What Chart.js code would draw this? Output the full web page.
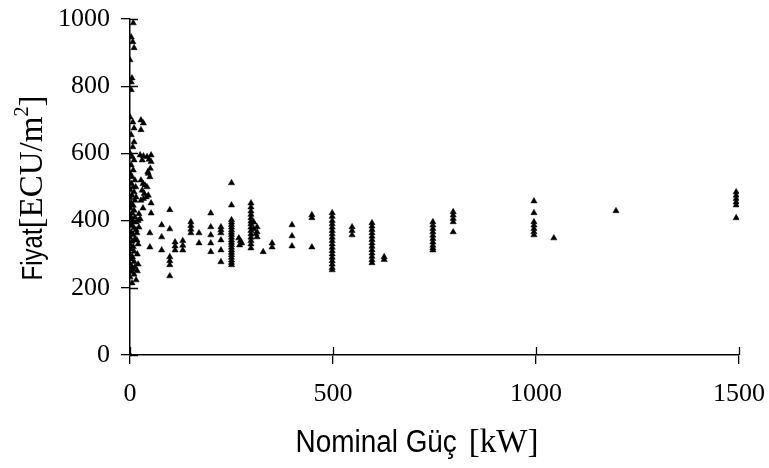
<!DOCTYPE html>
<html>
<head>
<meta charset="utf-8">
<script src="https://cdn.jsdelivr.net/npm/chart.js@4/dist/chart.umd.min.js"></script>
<style>
html,body{margin:0;padding:0;background:#fff;}
#wrap{width:769px;height:468px;position:relative;}
</style>
</head>
<body>
<div id="wrap"><canvas id="c" width="769" height="468"></canvas></div>
<script>
// Nominal power [kW] of each turbine
const powerKW = [
  0,
  8,3,7,10,0,5,3,3,0,7,10,3,10,7,0,5,10,3,8,0,5,12,3,8,0,10,5,0,12,3,8,0,10,5,0,12,3,8,0,5,10,15,3,8,0,12,5,0,8,3,10,0,6,3,10,0,5,12,8,3,10,0,15,5,17,17,15,15,14,
  22,20,22,25,20,18,20,18,
  27,27,33,25,33,42,52,30,47,52,44,49,27,32,37,42,30,35,40,45,27,33,32,52,52,49,49,45,50,
  78,78,78,
  98,98,98,98,98,98,
  111,111,111,
  130,130,130,
  150,150,150,150,
  170,170,
  199,199,199,199,199,
  224,224,224,224,224,224,
  250,250,250,250,250,250,250,250,250,250,250,250,250,250,250,250,250,250,250,250,250,
  268,272,275,270,
  298,298,298,298,298,298,298,298,298,298,298,298,298,298,305,305,310,
  313,313,313,
  328,
  350,350,
  399,399,399,
  448,448,448,
  498,498,498,498,498,498,498,498,498,498,498,498,498,498,498,498,498,498,
  547,547,547,
  596,596,596,596,596,596,596,596,596,596,596,596,596,
  626,626,
  746,746,746,746,746,746,746,746,746,746,
  796,796,796,796,796,
  995,995,995,995,995,995,995,
  1044,
  1197,
  1493,1493,1493,1493,1493,1493
];
// Price [ECU/m2] of each turbine (same order)
const priceEcu = [
  0,
  988,946,932,914,878,824,812,789,708,693,675,655,634,619,600,590,580,565,550,540,530,520,510,500,492,485,475,468,460,452,445,438,430,422,415,410,405,398,392,385,378,372,365,358,350,345,338,330,322,315,308,300,292,285,278,270,262,262,255,248,240,232,223,214,363,342,395,470,500,
  420,400,380,405,330,300,270,250,
  699,670,690,595,592,590,595,580,582,575,545,530,520,510,505,500,490,480,470,475,460,465,437,452,422,363,321,540,555,
  387,351,312,
  432,375,292,280,268,235,
  336,324,312,
  340,326,312,
  396,385,374,363,
  363,333,
  422,381,357,333,307,
  381,372,363,342,312,277,
  512,446,402,395,388,380,372,365,358,350,342,335,328,320,312,305,298,290,282,275,268,
  348,340,333,327,
  452,440,428,418,408,398,390,380,370,360,350,340,330,318,395,375,360,
  381,366,351,
  307,
  333,321,
  387,354,324,
  417,408,321,
  423,412,400,390,380,370,360,350,340,330,320,310,300,290,280,270,260,253,
  381,370,357,
  393,383,373,363,353,343,333,323,313,303,293,283,274,
  292,284,
  396,386,376,366,356,346,336,326,318,312,
  426,416,406,396,366,
  458,423,396,386,376,366,357,
  348,
  429,
  485,475,465,455,446,408
];
const xTicks = [0, 500, 1000, 1500];
const yTicks = [0, 200, 400, 600, 800, 1000];
const yTitleSans = 'Fiyat';
const yTitleSerif = '[ECU/m';
const yTitleSup = '2';
const yTitleEnd = ']';
const xTitleSans = 'Nominal Güç';
const xTitleSerif = '[kW]';

const points = powerKW.map((x, i) => ({x: x, y: priceEcu[i]}));

const TICK = 9;
const SERIF = '"Liberation Serif", "Times New Roman", serif';
const SANS = '"Liberation Sans", Arial, sans-serif';
const crossTicks = {
  id: 'crossTicks',
  afterDraw(chart) {
    const ctx = chart.ctx;
    const xs = chart.scales.x, ys = chart.scales.y;
    ctx.save();
    ctx.strokeStyle = '#000';
    ctx.lineWidth = 1.3;
    ctx.beginPath();
    yTicks.forEach(v => {
      const p = Math.round(ys.getPixelForValue(v)) + 0.5;
      ctx.moveTo(xs.left, p); ctx.lineTo(xs.left + 8, p);
    });
    xTicks.forEach(v => {
      const p = Math.round(xs.getPixelForValue(v)) + 0.5;
      ctx.moveTo(p, ys.bottom); ctx.lineTo(p, ys.bottom - 8);
    });
    ctx.stroke();

    ctx.fillStyle = '#000';
    ctx.textBaseline = 'alphabetic';
    // X title: condensed sans part + serif part
    const sansX = '31px ' + SANS;
    const serifX = '33px ' + SERIF;
    const cond = 0.9;
    ctx.font = sansX;
    const w1 = ctx.measureText(xTitleSans).width * cond;
    ctx.font = serifX;
    const w2 = ctx.measureText(xTitleSerif).width;
    const gap = 12;
    const total = w1 + gap + w2;
    const cx = 417;
    const sx = cx - total / 2;
    const by = 452;
    ctx.save();
    ctx.translate(sx, by);
    ctx.scale(cond, 1);
    ctx.font = sansX;
    ctx.fillText(xTitleSans, 0, 0);
    ctx.restore();
    ctx.font = serifX;
    ctx.fillText(xTitleSerif, sx + w1 + gap, by);

    // Y title (rotated)
    ctx.save();
    ctx.translate(42, 188);
    ctx.rotate(-Math.PI / 2);
    const sansY = '30px ' + SANS;
    const serifY = '33px ' + SERIF;
    const supY = '20px ' + SERIF;
    const condY = 0.8;
    ctx.font = sansY; const a = ctx.measureText(yTitleSans).width * condY;
    ctx.font = serifY; const b = ctx.measureText(yTitleSerif).width;
    ctx.font = supY; const c = ctx.measureText(yTitleSup).width;
    ctx.font = serifY; const d = ctx.measureText(yTitleEnd).width;
    const tot = a + b + c + d;
    let tx = -tot / 2;
    ctx.save();
    ctx.translate(tx, 0); ctx.scale(condY, 1);
    ctx.font = sansY; ctx.fillText(yTitleSans, 0, 0);
    ctx.restore();
    tx += a;
    ctx.font = serifY; ctx.fillText(yTitleSerif, tx, 0); tx += b;
    ctx.font = supY; ctx.fillText(yTitleSup, tx, -14); tx += c;
    ctx.font = serifY; ctx.fillText(yTitleEnd, tx, 0);
    ctx.restore();
    ctx.restore();
  }
};

new Chart(document.getElementById('c'), {
  type: 'scatter',
  data: {
    datasets: [{
      data: points,
      pointStyle: 'triangle',
      pointRadius: 3.6,
      pointBackgroundColor: '#000',
      pointBorderColor: '#000',
      pointBorderWidth: 0.5
    }]
  },
  options: {
    responsive: false,
    animation: false,
    layout: { padding: { left: 0, right: 30, top: 19, bottom: 0 } },
    plugins: { legend: { display: false }, tooltip: { enabled: false } },
    scales: {
      x: {
        type: 'linear',
        min: 0, max: 1500,
        afterBuildTicks: s => { s.ticks = xTicks.map(v => ({value: v})); },
        afterFit: s => { s.height = 113; s.paddingLeft = 0; s.paddingRight = 0; },
        ticks: {
          color: '#000',
          padding: 15,
          maxRotation: 0,
          callback: v => String(v),
          font: { family: SERIF, size: 26 }
        },
        grid: { drawOnChartArea: false, drawTicks: true, tickLength: TICK, color: '#000', lineWidth: 1.3 },
        border: { display: true, color: '#000', width: 1.5 }
      },
      y: {
        type: 'linear',
        min: 0, max: 1000,
        afterBuildTicks: s => { s.ticks = yTicks.map(v => ({value: v})); },
        afterFit: s => { s.width = 130; s.paddingTop = 0; s.paddingBottom = 0; },
        ticks: {
          color: '#000',
          padding: 11,
          callback: v => String(v),
          font: { family: SERIF, size: 26 }
        },
        grid: { drawOnChartArea: false, drawTicks: true, tickLength: TICK, color: '#000', lineWidth: 1.3 },
        border: { display: true, color: '#000', width: 1.5 }
      }
    }
  },
  plugins: [crossTicks]
});
</script>
</body>
</html>
